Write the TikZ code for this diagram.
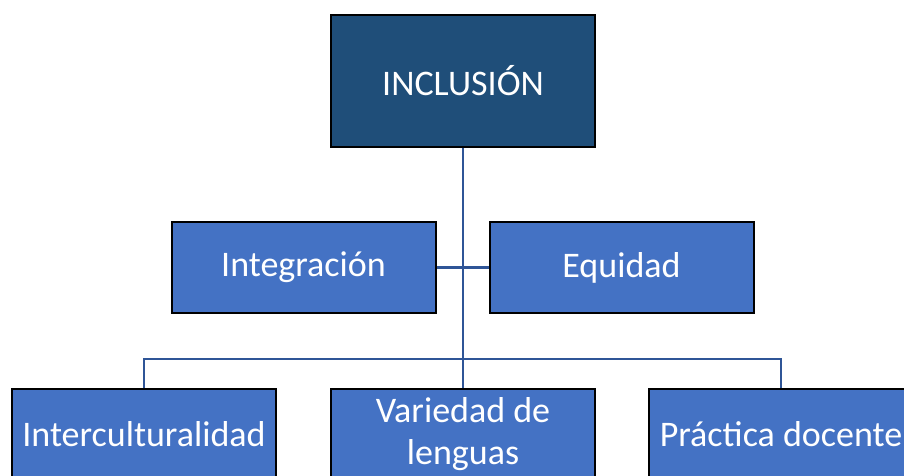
\documentclass[tikz,border=0pt]{standalone}
\usepackage{fontspec}
\setmainfont{Carlito}
\usepackage{xcolor}
\usetikzlibrary{positioning}
\definecolor{darkblue}{HTML}{1F4E79}
\definecolor{midblue}{HTML}{4472C4}
\definecolor{linkblue}{HTML}{2F5597}

\begin{document}
\begin{tikzpicture}[
        x=1pt,y=-1pt,
        font=\fontsize{36}{42}\selectfont,
        node distance=73pt,
        box/.style={rectangle,draw=black,line width=2pt,fill=midblue,text=white,minimum width=264pt,minimum height=91pt,align=center,inner sep=0pt},
        topbox/.style={box,fill=darkblue,minimum height=132pt},
        link/.style={draw=linkblue,line width=2.5pt}
    ]
        \useasboundingbox (0,0) rectangle (904,475);
        \node[topbox] (incl) at (463,81) {INCLUSIÓN};
        \node[box,below=of incl,xshift=-159.5pt] (integ) {Integración};
        \node[box,below=of incl,xshift=158.5pt] (equi) {Equidad};
        \node[box,below=74pt of integ,xshift=-159.5pt] (inter) {Interculturalidad};
        \node[box,below=74pt of integ,xshift=159.5pt] (varie) {Variedad de\\lenguas};
        \node[box,below=74pt of equi,xshift=159.5pt] (pract) {Práctica docente};

        \draw[link] (incl.south) -- (varie.north);
        \draw[link] (integ.east) -- (equi.west);
        \draw[link] (inter.north) -- ++(0,-29) -| (pract.north);
    \end{tikzpicture}
\end{document}
